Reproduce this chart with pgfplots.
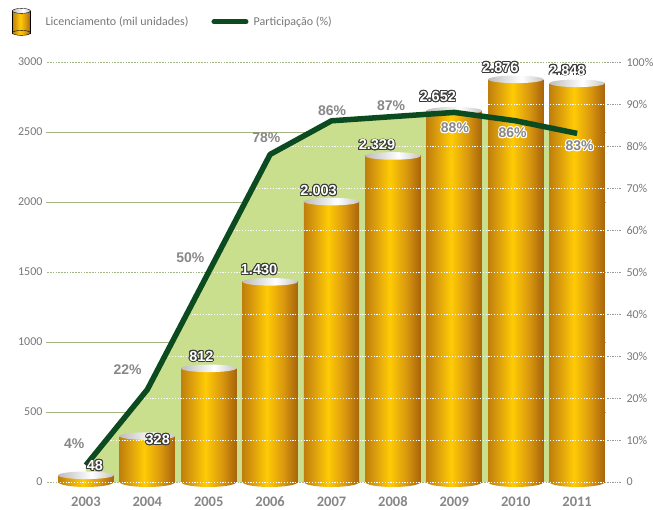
\documentclass[border=0pt]{standalone}
\usepackage{pgfplots}
\pgfplotsset{compat=1.18}
\usepackage{pgfplotstable}
\usepackage{fontspec}
\setmainfont{Carlito}
\newfontfamily\labfont{Liberation Sans}
\usepackage{contour}
\contourlength{0.9pt}

\definecolor{bL}{HTML}{C07F0C}
\definecolor{bL2}{HTML}{DDA00D}
\definecolor{bM}{HTML}{FFCB05}
\definecolor{bR2}{HTML}{D9980F}
\definecolor{bR}{HTML}{A8640B}
\definecolor{tL}{HTML}{BDBDBD}
\definecolor{tM}{HTML}{FFFFFF}
\definecolor{tR}{HTML}{C6C6C6}
\definecolor{areaG}{HTML}{CADF8D}
\definecolor{lineG}{HTML}{0C4A20}
\definecolor{gridO}{HTML}{A3B483}
\definecolor{tickgray}{HTML}{777777}
\definecolor{labgray}{HTML}{878787}
\definecolor{outl}{HTML}{3A3A3A}

\pgfdeclarehorizontalshading{barshade}{100bp}{color(0bp)=(bL); color(25bp)=(bL); color(35bp)=(bL2); color(47bp)=(bM); color(62bp)=(bR2); color(75bp)=(bR); color(100bp)=(bR)}
\pgfdeclarehorizontalshading{topshade}{100bp}{color(0bp)=(tL); color(25bp)=(tL); color(55bp)=(tM); color(75bp)=(tR); color(100bp)=(tR)}

\pgfdeclareplotmark{cyltop}{\pgfpathellipse{\pgfpointorigin}{\pgfqpoint{27.6pt}{0pt}}{\pgfqpoint{0pt}{3.8pt}}\pgfshadepath{topshade}{0}\pgfusepath{discard}}
\pgfdeclareplotmark{cylbot}{\pgfpathellipse{\pgfpointorigin}{\pgfqpoint{27.6pt}{0pt}}{\pgfqpoint{0pt}{5pt}}\pgfshadepath{barshade}{0}\pgfusepath{discard}}

\pgfplotstableread{
x v p
0 48 4
1 328 22
2 812 50
3 1430 78
4 2003 86
5 2329 87
6 2652 88
7 2876 86
8 2848 83
}\data

\pgfplotstableread{
x y t
0.146 114 48
1.17 300 328
1.88 896 812
2.82 1514 1.430
3.79 2079 2.003
4.74 2404 2.329
5.73 2750 2.652
6.75 2957 2.876
7.84 2939 2.848
}\vlab

\pgfplotstableread{
x y t
-0.19 9.2 4
0.68 26.7 22
1.70 53.5 50
2.94 81.9 78
4.01 88.5 86
4.97 89.6 87
}\plabA

\pgfplotstableread{
x y t
6.01 84.2 88
6.95 83.0 86
8.04 79.9 83
}\plabB

\pgfplotsset{base/.style={width=560pt, height=420pt, scale only axis,
  xmin=-0.65, xmax=8.47, at={(0,0)}, anchor=south west, clip=false},
  cyl/.style={ybar, bar width=0.9, draw=none, shade, shading=barshade}}

\begin{document}
\begin{tikzpicture}
\useasboundingbox (-46pt,-27pt) rectangle (607pt,482pt);
% left axis: grid, area, bars
\begin{axis}[base,
  ymin=0, ymax=3000,
  ytick={0,500,...,3000},
  yticklabels={0,500,1000,1500,2000,2500,3000},
  xtick={0,...,8},
  xticklabels={2003,2004,2005,2006,2007,2008,2009,2010,2011},
  ymajorgrids, grid style={gridO, line width=0.9pt},
  axis line style={draw=none},
  major tick length=0pt,
  ytick pos=left, xtick pos=bottom,
  yticklabel style={font=\fontsize{12}{12}\selectfont, color=tickgray},
  xticklabel style={font=\bfseries\fontsize{14.5}{14.5}\selectfont, color=labgray, anchor=base, yshift=-24.5pt},
]
\addplot[fill=areaG, draw=none] table[x=x, y expr=\thisrow{p}*30] {\data} \closedcycle;
\addplot[only marks, mark=cylbot] table[x=x, y expr=0] {\data};
\addplot[cyl] coordinates {(0,48)};
\addplot[cyl] coordinates {(1,328)};
\addplot[cyl] coordinates {(2,812)};
\addplot[cyl] coordinates {(3,1430)};
\addplot[cyl] coordinates {(4,2003)};
\addplot[cyl] coordinates {(5,2329)};
\addplot[cyl] coordinates {(6,2652)};
\addplot[cyl] coordinates {(7,2876)};
\addplot[cyl] coordinates {(8,2848)};
\addplot[only marks, mark=cyltop] table[x=x, y=v] {\data};
\end{axis}
% right axis: dotted grid, line, percent labels
\begin{axis}[base,
  ymin=0, ymax=100,
  ytick={0,10,...,100},
  yticklabels={0,10\%,20\%,30\%,40\%,50\%,60\%,70\%,80\%,90\%,100\%},
  ymajorgrids, grid style={white, line width=0.8pt, dash pattern=on 1.2pt off 1.6pt},
  xtick=\empty,
  ytick pos=right, yticklabel pos=right,
  tick align=outside, major tick length=15pt,
  tick style={gray!80, line width=0.6pt, dash pattern=on 0.8pt off 0.9pt},
  axis line style={draw=none},
  yticklabel style={font=\fontsize{12}{12}\selectfont, color=tickgray, xshift=2pt},
]
\addplot[lineG, line width=5.5pt, line join=round] table[x=x, y=p] {\data};
\addplot[draw=none, mark=none, point meta=explicit symbolic,
  nodes near coords={\pgfplotspointmeta\%},
  every node near coord/.append style={anchor=center, inner sep=0pt, text=labgray, font=\labfont\bfseries\fontsize{14}{14}\selectfont}]
  table[x=x, y=y, meta=t] {\plabA};
\addplot[draw=none, mark=none, point meta=explicit symbolic,
  nodes near coords={\color{labgray}\contour{white}{\pgfplotspointmeta\%}},
  every node near coord/.append style={anchor=center, inner sep=0pt, font=\labfont\bfseries\fontsize{14}{14}\selectfont}]
  table[x=x, y=y, meta=t] {\plabB};
\end{axis}
% value labels and legend
\begin{axis}[base,
  ymin=0, ymax=3000, hide axis,
  legend style={at={(-0.0607,1.1286)}, anchor=north west, draw=none, fill=none,
    inner sep=0pt, font=\fontsize{12}{12}\selectfont, text=tickgray,
    nodes={inner sep=0pt},
    /tikz/every even column/.append style={column sep=23pt}},
  legend columns=2,
]
\addlegendimage{legend image code/.code={
  \path[shade, shading=barshade] (0pt,-11pt) rectangle (18pt,11pt);
  \path[shade, shading=barshade] (9pt,-11pt) ellipse (9pt and 2.5pt);
  \path[shade, shading=topshade] (9pt,11pt) ellipse (9pt and 2.5pt);
  \path (33pt,0pt);}}
\addlegendentry{Licenciamento (mil unidades)}
\addlegendimage{legend image code/.code={
  \draw[lineG, line width=5pt, line cap=round] (2.5pt,0pt) -- (34.5pt,0pt);
  \path (42pt,0pt);}}
\addlegendentry{Participação (\%)}
\addplot[draw=none, mark=none, point meta=explicit symbolic,
  nodes near coords={\color{white}\contour{outl}{\pgfplotspointmeta}},
  every node near coord/.append style={anchor=center, inner sep=0pt, font=\labfont\bfseries\fontsize{14.5}{14.5}\selectfont}]
  table[x=x, y=y, meta=t] {\vlab};
\end{axis}
\end{tikzpicture}
\end{document}
